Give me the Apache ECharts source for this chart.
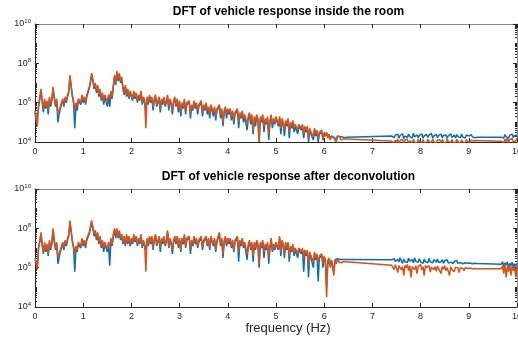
<!DOCTYPE html>
<html>
<head>
<meta charset="utf-8">
<script src="https://cdn.jsdelivr.net/npm/echarts@6/dist/echarts.min.js"></script>
<style>html,body{margin:0;padding:0;background:#fff}#c{width:518px;height:339px}</style>
</head>
<body>
<div id="c"></div>
<script>
// ---- data: log10 of the DFT magnitude ----
const STEP = 0.025;                  // sampling step inside each segment (Hz)
const SEG_STARTS = [0, 7.4, 9.675];  // start frequency of each sampled segment (Hz)

const titles = ['DFT of vehicle response inside the room', 'DFT of vehicle response after deconvolution'];
const xLabel = 'frequency (Hz)';
const xTickLabels = ['0','1','2','3','4','5','6','7','8','9','10'];
const yMajorExp = [4, 6, 8, 10];
const yDecades = [4, 5, 6, 7, 8, 9];
const minorMult = [2, 3, 4, 5, 6, 7, 8, 9];

// ---------- inside the room ----------
const roomBlueA = [
 5.5,5.0,5.1,5.8,6.2, 6.6,6.0,5.5,6.1, 5.7,6.0,5.4,6.2,5.8, 6.1,6.7,6.2,
 5.8,6.1,5.0,5.4,5.7,5.9, 6.1,5.8,6.2,6.0,6.3,6.5, 7.3,6.8,6.3,6.0, 4.7,5.9,5.6,6.1,
 6.2,5.9,6.3,6.0,6.2,5.9,6.3,6.4, 6.7,7.0,7.4,7.1,6.7,6.9,
 6.5,6.8,6.3,6.6,6.1,6.4,5.9,6.3,6.2,5.8,6.3,5.8,6.5,6.2,
 6.8,7.3,6.9,7.5,7.1,7.4,7.0,7.2, 6.7,6.4,6.8,6.3,6.6,6.2,6.5,6.4,
 6.1,6.5,6.2,6.4,6.0,6.3,6.1,6.5,5.9,6.2,6.0,5.6,
 6.2,5.9,6.3,6.0,6.2,5.6,6.1,6.3,5.8,6.0,6.2,5.5,6.1,5.9,6.2,5.8,6.0,6.3,5.6,6.1,5.9,5.4,6.0,6.2,
 5.8,6.1,5.5,6.0,5.3,5.9,5.7,6.1,5.4,5.9,5.8,6.0,5.2,5.8,5.6,6.0,5.7,5.9,5.4,5.8,5.7,6.0,5.3,5.8,
 5.6,5.9,5.4,5.7,5.2,5.8,5.6,5.3,5.7,5.1,5.6,5.5,5.8,5.2,5.6,4.8,5.5,5.7,5.2,5.6,
 5.4,5.6,5.1,5.5,4.9,5.4,5.3,5.6,4.7,5.4,5.2,5.5,5.0,5.3,5.4,4.6,5.2,5.4,4.9,5.3,
 4.4,5.2,4.8,5.3,5.1,4.0,5.2,5.0,5.3,4.5,5.1,4.9,5.2,4.1,5.0,5.3,4.7,5.1,4.9,5.2,
 5.0,4.8,5.2,4.4,5.1,4.9,4.3,5.0,4.8,5.1,4.2,4.9,4.7,5.0,4.5,4.8,4.9,4.4,4.8,4.7,
 4.6,4.8,4.2,4.7,4.5,4.7,4.0,4.6,4.4,4.5,4.1,4.6,4.3,4.5,4.0,4.4,4.35,4.5,4.1,4.45,
 4.3,4.45,4.2,4.4,4.15,4.3,4.4,4.25,4.3,4.1,4.3,4.25,4.28,4.2,4.26,4.24,4.22,4.25,4.24];
const roomOrangeA = [
 5.6,5.2,4.8,5.9,6.3, 6.7,6.1,5.7,6.2, 5.8,6.1,5.6,6.3,5.9, 6.2,6.8,6.3,
 5.9,6.2,5.4,5.3,5.8,6.0, 6.2,5.9,6.3,6.1,6.4,6.6, 7.4,6.9,6.4,6.1, 5.6,6.0,5.8,6.2,
 6.3,6.0,6.4,6.1,6.3,6.0,6.4,6.5, 6.8,7.1,7.5,7.2,6.8,7.0,
 6.6,6.9,6.4,6.7,6.2,6.5,6.1,6.4,6.3,6.0,6.4,6.2,6.6,6.3,
 6.9,7.4,7.0,7.6,7.2,7.5,7.1,7.3, 6.8,6.5,6.9,6.4,6.7,6.3,6.6,6.5,
 6.2,6.6,6.3,6.5,6.1,6.4,6.2,6.6,6.0,6.3,6.1,4.7,
 6.3,6.0,6.4,6.1,6.3,5.8,6.2,6.4,5.9,6.1,6.3,5.7,6.2,6.0,6.3,5.9,6.1,6.4,5.8,6.2,6.0,5.6,6.1,6.3,
 5.9,6.2,5.7,6.1,5.5,6.0,5.8,6.2,5.6,6.0,5.9,6.1,5.4,5.9,5.7,6.1,5.8,6.0,5.6,5.9,5.8,6.1,5.5,5.9,
 5.7,6.0,5.6,5.8,5.4,5.9,5.7,5.5,5.8,5.3,5.7,5.6,5.9,5.4,5.7,5.0,5.6,5.8,5.4,5.7,
 5.5,5.7,5.3,5.6,5.1,5.5,5.4,5.7,5.0,5.5,5.3,5.6,5.2,5.4,5.5,4.9,5.3,5.5,5.1,5.4,
 4.6,5.3,5.0,5.4,5.2,4.0,5.3,5.1,5.4,4.8,5.2,5.0,5.3,4.4,5.1,5.4,4.9,5.2,5.0,5.3,
 5.1,4.9,5.3,4.7,5.2,5.0,4.6,5.1,4.9,5.2,4.5,5.0,4.8,5.1,4.7,4.9,5.0,4.6,4.9,4.8,
 4.7,4.9,4.4,4.8,4.6,4.8,4.2,4.7,4.5,4.6,4.3,4.7,4.4,4.6,4.2,4.5,4.4,4.6,4.1,4.5,
 4.3,4.5,4.2,4.4,4.1,4.3,4.4,4.2,4.3,4.0,4.3,4.2,4.25,4.1,4.2,4.15,4.1,4.15,4.1];
const roomBlueB = [4.3,4.38,4.22,4.35,4.28,4.4,4.2,4.33,4.26,4.42,4.18,4.3,4.36,4.24,4.4,4.27,4.33,4.2,
 4.45,4.25,4.3,4.37,4.22,4.34,4.28,4.41,4.19,4.32,4.26,4.38,4.23,4.35,4.29,4.44,4.2,4.31,
 4.27,4.39,4.22,4.34,4.25,4.4,4.21,4.33,4.28,4.36,4.19,4.32,4.26,4.42,4.23,4.3,4.35,4.2,
 4.38,4.27,4.31,4.22,4.4,4.25,4.33,4.2,4.36,4.28,4.3,4.23,4.37,4.26,4.31,4.22,4.28,4.24];
const roomOrangeB = [4.05,4.12,3.92,4.1,3.98,4.15,3.9,4.08,4.02,4.14,3.94,4.1,4.0,4.16,3.92,4.06,4.11,3.96,
 4.13,4.0,4.08,3.9,4.15,4.03,4.1,3.95,4.12,4.0,4.07,3.93,4.14,4.02,4.09,3.96,4.16,4.01,
 4.06,3.92,4.12,4.04,4.1,3.95,4.13,4.0,4.08,3.93,4.15,4.02,4.07,3.96,4.12,4.0,4.1,3.94,
 4.14,4.03,4.06,3.92,4.11,4.0,4.08,3.95,4.13,4.02,4.07,3.97,4.1,4.01,4.05,3.96,4.08,4.04];
const roomBlueC = [4.24,4.32,4.2,4.38,4.26,4.3,4.18,4.35,4.28,4.4,4.22,4.33,4.27,4.36];
const roomOrangeC = [4.04,4.1,3.95,4.15,4.02,4.2,3.96,4.12,4.06,4.18,4.0,4.1,4.05,4.2];

// ---------- after deconvolution ----------
const deconvBlueA = [
 6.4,6.3,6.2,7.1,7.3, 7.7,7.1,6.7,7.2, 6.8,7.1,6.6,7.3,6.9, 7.2,7.9,7.3,
 6.9,7.2,6.2,6.1,6.8,7.0, 7.2,6.9,7.3,7.1,7.4,7.6, 8.3,7.8,7.3,7.0, 5.8,7.0,6.8,7.2,
 7.3,7.0,7.4,7.1,7.3,7.0,7.4,7.5, 7.7,8.0,8.3,8.0,7.6,7.8,
 7.4,7.7,7.2,7.5,7.0,7.3,6.8,7.2,7.1,6.8,7.2,6.1,7.4,7.1,
 7.6,7.9,7.5,7.9,7.5,7.8,7.4,7.6, 7.2,7.5,7.1,7.6,7.2,7.5,7.1,7.4,
 7.2,7.6,7.3,7.5,7.1,7.4,7.2,7.6,7.0,7.3,7.1,6.9,
 7.4,7.1,7.5,7.2,7.5,6.9,7.4,7.6,7.1,7.3,7.5,6.8,7.4,7.2,7.5,7.1,7.3,7.8,7.0,7.4,7.2,6.7,7.3,7.5,
 7.2,7.5,7.0,7.4,6.8,7.4,7.2,7.6,7.0,7.4,7.3,7.5,6.7,7.3,7.1,7.5,7.2,7.4,7.0,7.3,7.2,7.5,6.9,7.3,
 7.2,7.5,7.1,7.4,6.9,7.5,7.3,7.1,7.4,6.8,7.3,7.2,7.7,7.1,7.4,6.5,7.3,7.5,7.1,7.4,
 7.2,7.4,7.0,7.3,6.8,7.3,7.2,7.5,6.3,7.3,7.1,7.4,7.0,7.2,7.3,6.4,7.1,7.3,6.9,7.2,
 6.3,7.2,6.9,7.3,7.1,6.0,7.2,7.0,7.3,6.5,7.1,6.9,7.2,6.2,7.0,7.4,6.8,7.1,6.9,7.2,
 7.1,6.9,7.5,6.6,7.3,7.1,6.5,7.2,6.9,7.2,6.3,7.0,6.8,7.1,6.6,6.9,7.0,6.5,6.9,6.8,
 6.7,6.9,5.8,6.8,6.6,6.8,5.5,6.7,6.5,6.6,6.0,6.7,6.4,6.6,5.3,6.5,6.4,6.6,6.0,6.5,
 6.3,5.0,6.4,6.45,6.1,6.4,6.45,5.8,6.4,6.3,6.45,6.38,6.42,6.35,6.42,6.4,6.42,6.41,6.42];
const deconvOrangeA = [
 6.5,6.2,5.9,7.0,7.4, 7.8,7.2,6.8,7.3, 6.9,7.2,6.7,7.4,7.0, 7.3,8.0,7.4,
 7.0,7.3,6.5,6.4,6.9,7.1, 7.3,7.0,7.4,7.2,7.5,7.7, 8.4,7.9,7.4,7.1, 6.7,7.1,6.9,7.3,
 7.4,7.1,7.5,7.2,7.4,7.1,7.5,7.6, 7.8,8.1,8.4,8.1,7.7,7.9,
 7.5,7.8,7.3,7.6,7.1,7.4,7.0,7.3,7.2,6.9,7.3,7.1,7.5,7.2,
 7.7,8.0,7.6,8.0,7.6,7.9,7.5,7.7, 7.3,7.6,7.2,7.7,7.3,7.6,7.2,7.5,
 7.3,7.7,7.4,7.6,7.2,7.5,7.3,7.7,7.1,7.4,7.2,5.8,
 7.5,7.2,7.6,7.3,7.6,7.0,7.5,7.7,7.2,7.4,7.6,7.0,7.5,7.3,7.6,7.2,7.4,7.9,7.1,7.5,7.3,6.9,7.4,7.6,
 7.3,7.6,7.1,7.5,6.9,7.5,7.3,7.7,7.1,7.5,7.4,7.6,6.9,7.4,7.2,7.6,7.3,7.5,7.1,7.4,7.3,7.6,7.0,7.4,
 7.3,7.6,7.2,7.5,7.0,7.6,7.4,7.2,7.5,6.9,7.4,7.3,7.8,7.2,7.5,6.7,7.4,7.6,7.2,7.5,
 7.3,7.5,7.1,7.4,6.9,7.4,7.3,7.6,6.8,7.4,7.2,7.5,7.1,7.3,7.4,6.7,7.2,7.4,7.0,7.3,
 6.6,7.3,7.0,7.4,7.2,6.2,7.3,7.1,7.4,6.8,7.2,7.0,7.3,6.5,7.1,7.5,6.9,7.2,7.0,7.3,
 7.2,7.0,7.6,6.8,7.4,7.2,6.7,7.3,7.0,7.3,6.6,7.1,6.9,7.2,6.8,7.0,7.1,6.7,7.0,6.9,
 6.8,7.0,6.5,6.9,6.7,6.9,6.1,6.8,6.6,6.7,6.3,6.8,6.5,6.7,6.2,6.6,6.5,6.7,6.2,6.6,
 6.4,4.5,6.3,6.5,6.0,6.4,6.5,5.6,6.4,6.2,6.45,6.3,6.4,6.25,6.35,6.3,6.28,6.3,6.27];
const deconvBlueB = [6.4,6.3,6.46,6.32,6.25,6.42,6.3,6.5,6.34,6.22,6.44,6.3,6.38,6.26,6.48,6.33,6.28,6.41,
 6.24,6.5,6.32,6.37,6.27,6.45,6.3,6.36,6.22,6.43,6.31,6.38,6.25,6.47,6.3,6.35,6.24,6.42,
 6.33,6.28,6.44,6.26,6.36,6.3,6.41,6.22,6.35,6.29,6.4,6.24,6.33,6.28,6.38,6.21,6.32,6.27,
 6.36,6.22,6.3,6.26,6.34,6.2,6.3,6.25,6.32,6.22,6.28,6.24,6.3,6.2,6.26,6.22,6.25,6.21];
const deconvOrangeB = [6.12,6.05,5.9,6.15,6.0,5.75,6.1,6.2,5.9,6.05,5.6,6.12,6.0,6.16,5.85,6.1,5.5,6.05,
 6.14,5.9,6.1,5.7,6.08,6.0,6.16,5.88,6.05,5.6,6.12,6.0,5.95,6.1,5.78,6.02,6.1,5.9,
 6.05,5.82,6.08,5.95,6.02,5.7,6.06,5.92,6.1,5.85,6.0,5.95,5.6,6.05,5.9,6.0,5.8,6.02,
 5.92,5.98,5.75,6.0,5.9,5.97,5.85,6.0,5.93,5.96,5.88,5.98,5.92,5.95,5.9,5.96,5.94,5.95];
const deconvBlueC = [6.18,6.3,6.05,6.25,6.12,6.3,5.95,6.22,6.1,6.28,6.0,6.2,6.08,6.22];
const deconvOrangeC = [5.95,6.1,5.7,6.2,5.5,6.05,5.8,6.15,5.6,6.1,5.85,6.0,5.5,6.1];

// ---- build [freq, magnitude] pairs from the segments ----
function pairs(segs) {
  const out = [];
  segs.forEach((seg, s) => {
    seg.forEach((v, i) => {
      out.push([+(SEG_STARTS[s] + i * STEP).toFixed(4), Math.pow(10, v)]);
    });
  });
  return out;
}

const BLUE = '#0072BD', ORANGE = '#D95319';
const DARK = '#262626', GRAY = '#8a8a8a';
const FONT = 'Liberation Sans, Arial, Helvetica, sans-serif';

const grids = [
  { left: 35, top: 24, width: 482, height: 118 },
  { left: 35, top: 189, width: 482, height: 118 }
];

const majorLogs = yMajorExp.slice();
const minorLogs = [];
yDecades.forEach(d => {
  minorMult.forEach(m => minorLogs.push(Math.log10(m * Math.pow(10, d))));
});
[5, 7, 9].forEach(e => minorLogs.push(e));

const xAxes = [], yAxes = [], series = [];
grids.forEach((g, gi) => {
  xAxes.push({
    gridIndex: gi, type: 'value', min: 0, max: 10, interval: 1, position: 'bottom',
    axisLine: { lineStyle: { color: DARK, width: 1 } },
    axisTick: { inside: true, length: 4, lineStyle: { color: DARK } },
    axisLabel: { color: DARK, fontSize: 9, fontFamily: FONT, margin: 5,
      formatter: v => xTickLabels[Math.round(v)] },
    splitLine: { show: false }
  });
  xAxes.push({
    gridIndex: gi, type: 'value', min: 0, max: 10, interval: 1, position: 'top',
    axisLine: { lineStyle: { color: GRAY, width: 1 } },
    axisTick: { inside: true, length: 4, lineStyle: { color: DARK } },
    axisLabel: { show: false }, splitLine: { show: false }
  });
  yAxes.push({
    gridIndex: gi, type: 'log', logBase: 10, min: 1e4, max: 1e10, position: 'left',
    axisLine: { show: true, lineStyle: { color: DARK, width: 1 } },
    axisTick: { show: false },
    axisLabel: {
      color: DARK, fontSize: 9, fontFamily: FONT, margin: 4,
      formatter: v => {
        const e = Math.round(Math.log10(v));
        return yMajorExp.indexOf(e) >= 0 ? '10{s|' + e + '}' : '';
      },
      rich: { s: { fontSize: 6, fontFamily: FONT, color: DARK, verticalAlign: 'top', padding: [0, 0, 6, 0] } }
    },
    splitLine: { show: false }, minorTick: { show: false }
  });
  const tickAxis = (pos, vals, len, showLine) => ({
    gridIndex: gi, type: 'value', min: 4, max: 10, position: pos,
    axisLine: { show: showLine, lineStyle: { color: GRAY, width: 1 } },
    axisTick: { show: true, inside: true, length: len, customValues: vals, lineStyle: { color: DARK } },
    axisLabel: { show: false }, splitLine: { show: false }
  });
  yAxes.push(tickAxis('left', majorLogs, 4, false));
  yAxes.push(tickAxis('left', minorLogs, 2, false));
  yAxes.push(tickAxis('right', majorLogs, 4, true));
  yAxes.push(tickAxis('right', minorLogs, 2, false));
});

const sets = [
  [[roomBlueA, roomBlueB, roomBlueC], [roomOrangeA, roomOrangeB, roomOrangeC]],
  [[deconvBlueA, deconvBlueB, deconvBlueC], [deconvOrangeA, deconvOrangeB, deconvOrangeC]]
];
sets.forEach((pair, gi) => {
  [BLUE, ORANGE].forEach((col, k) => {
    series.push({
      type: 'line', xAxisIndex: gi * 2, yAxisIndex: gi * 5,
      data: pairs(pair[k]), showSymbol: false, symbol: 'none',
      lineStyle: { color: col, width: 1.5 }, clip: true, animation: false,
      z: 2 + k
    });
  });
});

const chart = echarts.init(document.getElementById('c'), null, { renderer: 'canvas' });
chart.setOption({
  backgroundColor: '#fff',
  animation: false,
  grid: grids.map(g => Object.assign({ containLabel: false, outerBoundsMode: 'none' }, g)),
  xAxis: xAxes,
  yAxis: yAxes,
  series: series,
  graphic: [
    { type: 'text', x: 288.5, y: 11.5, style: { text: titles[0], font: 'bold 12px ' + FONT, fill: '#000', textAlign: 'center', textVerticalAlign: 'middle' } },
    { type: 'text', x: 288.5, y: 177, style: { text: titles[1], font: 'bold 12px ' + FONT, fill: '#000', textAlign: 'center', textVerticalAlign: 'middle' } },
    { type: 'text', x: 288, y: 328, style: { text: xLabel, font: '13px ' + FONT, fill: DARK, textAlign: 'center', textVerticalAlign: 'middle' } }
  ]
});
</script>
</body>
</html>
